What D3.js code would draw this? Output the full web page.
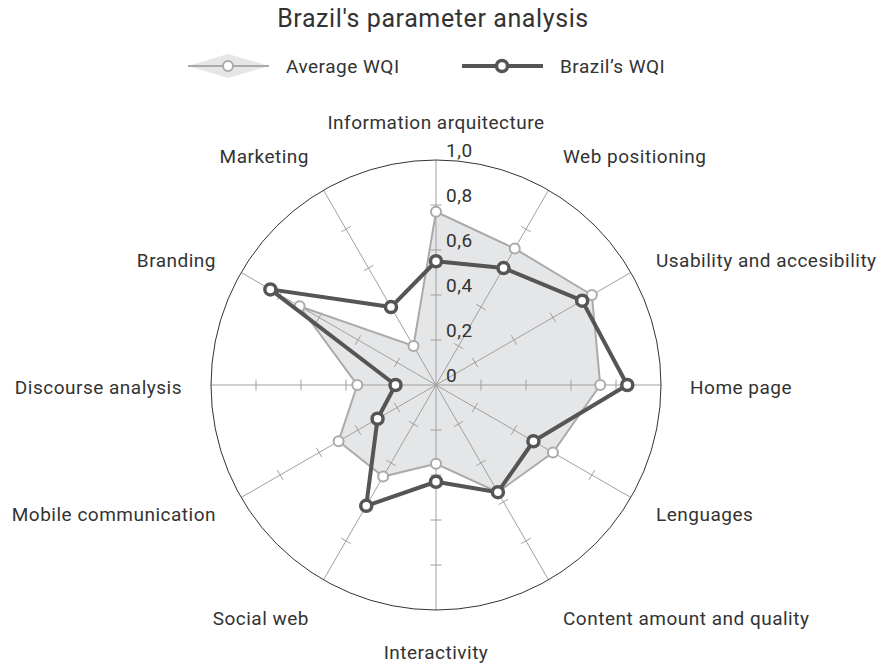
<!DOCTYPE html>
<html>

<head>
  <title>Brazil's parameter analysis</title>
  <script type='text/javascript' src='https://cdn.jsdelivr.net/npm/d3@7'></script>
  <style type="text/css">
    body {
      margin: 0;
      background: #fff;
    }

    text {
      font-family: Roboto, "Noto Sans", sans-serif;
      fill: #333;
      letter-spacing: 0.5px;
    }
  </style>
</head>

<body>
</body>
<script type='text/javascript'>

  let [w, h] = [880, 663]

  // axes, clockwise from the top
  var categories = ["Information arquitecture", "Web positioning", "Usability and accesibility",
    "Home page", "Lenguages", "Content amount and quality", "Interactivity", "Social web",
    "Mobile communication", "Discourse analysis", "Branding", "Marketing"]

  var averageWQI = [0.77, 0.70, 0.80, 0.73, 0.60, 0.55, 0.35, 0.47, 0.50, 0.35, 0.70, 0.20]
  var brazilWQI = [0.55, 0.60, 0.75, 0.85, 0.50, 0.55, 0.43, 0.62, 0.30, 0.18, 0.85, 0.40]

  var tickValues = [0, 0.2, 0.4, 0.6, 0.8, 1.0]
  var tickLabels = ["0", "0,2", "0,4", "0,6", "0,8", "1,0"]

  var seriesNames = ["Average WQI", "Brazil\u2019s WQI"]

  var cx = 436, cy = 385, R = 225

  var r = d3.scaleLinear().domain([0, 1]).range([0, R])
  var angle = d3.scaleLinear().domain([0, categories.length]).range([0, 2 * Math.PI])

  var svg = d3.select("body")
    .append("svg")
    .attr("width", w)
    .attr("height", h);

  //Title
  svg.append("text")
    .attr("x", cx - 3)
    .attr("y", 27)
    .attr("text-anchor", "middle")
    .style("font-size", "25px")
    .style("letter-spacing", "0.6px")
    .text("Brazil's parameter analysis");

  var g = svg.append("g").attr("transform", "translate(" + cx + "," + cy + ")")

  var radial = d3.lineRadial()
    .angle(function (d, i) { return angle(i) })
    .radius(function (d) { return r(d) })
    .curve(d3.curveLinearClosed)

  // average area fill
  g.append("path")
    .datum(averageWQI)
    .attr("d", radial)
    .attr("fill", "#e5e6e8")
    .attr("stroke", "none");

  // spokes
  categories.forEach(function (c, i) {
    var a = angle(i)
    var sx = Math.sin(a), sy = -Math.cos(a)
    g.append("line")
      .attr("x1", 0).attr("y1", 0)
      .attr("x2", r(1) * sx).attr("y2", r(1) * sy)
      .attr("stroke", "#a0a0a0").attr("stroke-width", 1);
    // tick marks
    tickValues.slice(1, 5).forEach(function (t) {
      var px = r(t) * sx, py = r(t) * sy
      g.append("line")
        .attr("x1", px - 5.5 * Math.cos(a)).attr("y1", py - 5.5 * Math.sin(a))
        .attr("x2", px + 5.5 * Math.cos(a)).attr("y2", py + 5.5 * Math.sin(a))
        .attr("stroke", "#a0a0a0").attr("stroke-width", 1);
    })
  })

  // outer circle
  g.append("circle")
    .attr("r", r(1))
    .attr("fill", "none")
    .attr("stroke", "#333")
    .attr("stroke-width", 1);

  // tick labels on the vertical axis
  g.selectAll(".tlab")
    .data(tickValues)
    .enter().append("text")
    .attr("class", "tlab")
    .attr("x", 10)
    .attr("y", function (d) { return -r(d) - 3 })
    .style("font-size", "19px")
    .text(function (d, i) { return tickLabels[i] });

  // category labels
  categories.forEach(function (c, i) {
    var a = angle(i)
    var sn = Math.sin(a), cs = Math.cos(a)
    var lr = 254
    var x = lr * sn, y = -lr * cs
    var anchor = Math.abs(sn) < 0.01 ? "middle" : (sn > 0 ? "start" : "end")
    if (cs > 0.8) y -= 11
    if (cs < -0.8) y += 11
    g.append("text")
      .attr("x", x)
      .attr("y", y + 2)
      .attr("dy", "0.36em")
      .attr("text-anchor", anchor)
      .style("font-size", "19px")
      .text(c);
  })

  // average outline and markers
  g.append("path")
    .datum(averageWQI)
    .attr("d", radial)
    .attr("fill", "none")
    .attr("stroke", "#aaaaaa")
    .attr("stroke-width", 2);

  g.selectAll(".avgpt")
    .data(averageWQI)
    .enter().append("circle")
    .attr("class", "avgpt")
    .attr("cx", function (d, i) { return r(d) * Math.sin(angle(i)) })
    .attr("cy", function (d, i) { return -r(d) * Math.cos(angle(i)) })
    .attr("r", 5)
    .attr("fill", "#fff")
    .attr("stroke", "#aaaaaa")
    .attr("stroke-width", 2);

  // Brazil line and markers
  g.append("path")
    .datum(brazilWQI)
    .attr("d", radial)
    .attr("fill", "none")
    .attr("stroke", "#555")
    .attr("stroke-width", 4)
    .attr("stroke-linejoin", "round");

  g.selectAll(".brpt")
    .data(brazilWQI)
    .enter().append("circle")
    .attr("class", "brpt")
    .attr("cx", function (d, i) { return r(d) * Math.sin(angle(i)) })
    .attr("cy", function (d, i) { return -r(d) * Math.cos(angle(i)) })
    .attr("r", 5.5)
    .attr("fill", "#fff")
    .attr("stroke", "#555")
    .attr("stroke-width", 3.5);

  //Legend
  var leg = svg.append("g")
  // average: diamond area + line + hollow marker
  leg.append("path")
    .attr("d", "M188,66 L228,54 L269,66 L228,78 Z")
    .attr("fill", "#e5e6e8");
  leg.append("line")
    .attr("x1", 188).attr("x2", 269).attr("y1", 66).attr("y2", 66)
    .attr("stroke", "#aaaaaa").attr("stroke-width", 2);
  leg.append("circle")
    .attr("cx", 228).attr("cy", 66).attr("r", 5)
    .attr("fill", "#fff").attr("stroke", "#aaaaaa").attr("stroke-width", 2);
  leg.append("text")
    .attr("x", 286).attr("y", 73)
    .style("font-size", "19px")
    .text(seriesNames[0]);

  leg.append("line")
    .attr("x1", 462).attr("x2", 543).attr("y1", 66).attr("y2", 66)
    .attr("stroke", "#555").attr("stroke-width", 4);
  leg.append("circle")
    .attr("cx", 502).attr("cy", 66).attr("r", 5.5)
    .attr("fill", "#fff").attr("stroke", "#555").attr("stroke-width", 3.5);
  leg.append("text")
    .attr("x", 560).attr("y", 73)
    .style("font-size", "19px")
    .text(seriesNames[1]);

</script>

</html>
